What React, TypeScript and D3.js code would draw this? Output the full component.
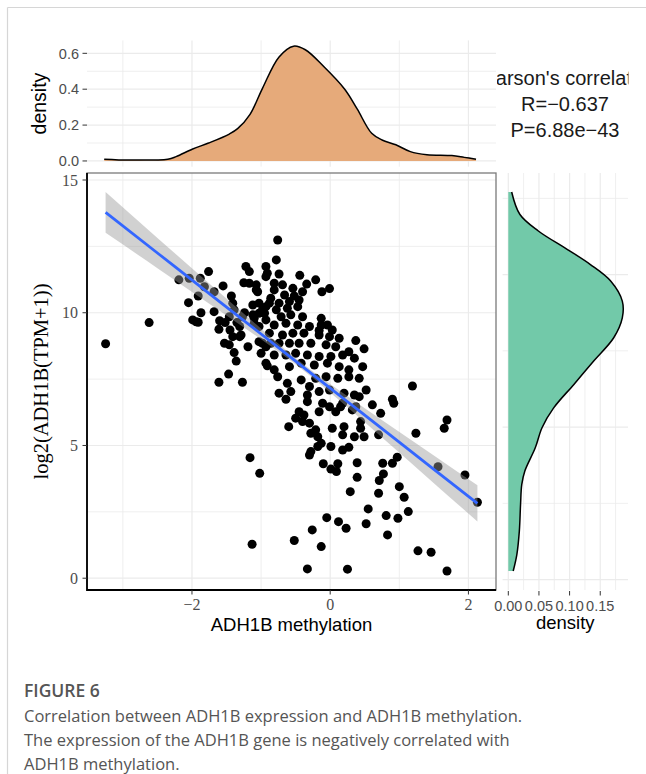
import React from 'react';
import * as d3 from 'd3';

// scatter: ADH1B methylation (x) vs log2(ADH1B(TPM+1)) (y)
const methylation = [
  -3.25, -2.62, -2.19, -2.04, -1.88, -1.76, -1.82, -1.91, -2.05, -1.99, -1.91, -1.87, -1.68, -1.68, -1.55, -1.60,
  -1.61, -1.52, -1.45, -1.43, -1.41, -1.39, -1.46, -1.53, -1.46, -1.39, -1.36, -1.47, -1.61, -1.27, -1.41, -1.31,
  -1.29, -1.19, -1.27, -1.22, -1.17, -1.17, -1.07, -1.07, -1.12, -1.03, -1.03, -1.10, -0.93, -0.93, -0.95, -0.93,
  -1.03, -0.93, -1.00, -0.93, -1.10, -1.16, -1.02, -1.13, -1.94, -1.35, -1.24, -1.25, -1.05, -0.78, -0.76, -0.88,
  -1.12, -0.86, -0.81, -1.31, -0.98, -0.86, -0.93, -1.03, -0.91, -0.81, -0.76, -0.74, -0.62, -0.57, -0.64, -0.42,
  -0.30, -0.33, -0.33, -0.45, -0.50, -0.38, -0.40, -0.30, -0.21, -0.28, -0.18, -0.16, -0.11, -0.01, 0.08, 0.15,
  -0.60, 0.03, 0.18, -0.13, -0.18, -0.28, 0.01, 0.18, -0.30, 0.27, -0.10, 0.01, 0.11, 0.09, 0.39, 0.39,
  0.29, 0.76, 0.90, 0.97, 0.77, 0.71, 0.70, 1.00, 1.07, 1.13, 0.98, 0.81, 0.55, 0.52, 0.83, -0.05,
  0.12, 0.23, -0.26, -0.52, -0.13, -0.33, 0.25, 1.27, 1.46, 1.69, 1.56, 1.95, 2.13, 1.19, 0.90, 0.92,
  0.61, 0.73, 1.69, 1.65, 1.24, 0.52, 0.42, 0.35, 0.20, 0.32, 0.44, 0.44, 0.20, 0.35, 0.49, 0.70,
  -0.91, -0.74, -0.44, -0.21, -0.34, -0.01, -0.12, -0.69, -0.81, -0.54, -0.40, -0.66, -0.52, -0.74, -0.59, -0.45,
  -0.98, -0.78, -0.62, -0.47, -0.71, -0.57, -0.40, -0.13, -0.13, -0.04, 0.03, -0.81, -0.64, -0.47, -0.30, -0.88,
  -0.69, -0.54, -0.38, -0.16, -0.01, 0.13, 0.37, 0.49, -0.74, -0.59, -0.45, -0.28, -0.06, 0.08, 0.27, -0.81,
  -0.64, -0.50, -0.33, -0.16, 0.01, 0.18, -0.59, -0.42, -0.23, -0.04, 0.13, 0.35, 0.27, 0.47, -0.21, -0.06,
  0.11, 0.27, 0.42, -0.16, -0.01, 0.18, 0.37, -0.16
];
const expression = [
  8.83, 9.63, 11.24, 11.30, 11.30, 11.55, 10.98, 10.63, 10.38, 9.73, 9.64, 10.00, 10.04, 10.79, 11.01, 9.70,
  9.38, 9.63, 9.35, 10.63, 10.36, 10.11, 9.85, 8.85, 8.79, 8.50, 8.18, 7.69, 7.38, 7.38, 9.10, 9.48,
  9.16, 8.72, 9.85, 11.74, 11.55, 11.11, 11.05, 10.86, 10.29, 10.36, 9.98, 9.79, 11.74, 11.36, 9.98, 10.23,
  8.91, 8.72, 8.47, 8.10, 9.60, 4.54, 3.95, 1.28, 9.66, 9.63, 10.00, 11.13, 10.79, 11.99, 12.74, 10.36,
  9.92, 10.55, 11.11, 9.10, 8.85, 8.85, 9.73, 9.48, 8.00, 7.85, 7.59, 6.97, 7.34, 7.03, 6.74, 7.47,
  7.22, 6.90, 6.65, 6.27, 6.03, 6.15, 5.90, 5.84, 5.59, 5.46, 5.33, 6.27, 6.59, 6.46, 6.27, 6.46,
  5.71, 5.65, 5.40, 5.08, 4.96, 4.77, 4.96, 4.83, 4.64, 4.93, 4.31, 4.11, 4.31, 4.02, 4.35, 3.80,
  3.26, 4.33, 4.33, 4.56, 3.93, 3.68, 3.20, 3.45, 3.05, 2.51, 2.26, 2.36, 2.61, 2.05, 1.63, 2.28,
  2.13, 1.88, 1.82, 1.42, 1.19, 0.35, 0.34, 1.03, 0.98, 0.27, 4.20, 3.89, 2.86, 7.24, 6.74, 6.59,
  6.53, 6.21, 5.96, 5.65, 5.46, 7.09, 6.84, 6.90, 6.97, 6.34, 5.90, 5.65, 5.71, 5.33, 5.33, 5.40,
  11.49, 11.46, 11.41, 11.24, 11.08, 10.91, 10.79, 11.05, 10.86, 10.92, 10.79, 10.67, 10.63, 10.36, 10.42, 10.48,
  10.11, 10.11, 10.17, 10.23, 9.85, 9.92, 9.85, 9.79, 9.54, 9.54, 9.35, 9.54, 9.60, 9.54, 9.48, 9.23,
  9.16, 9.23, 9.23, 9.16, 9.10, 9.04, 8.95, 8.64, 8.85, 8.85, 8.85, 8.85, 8.79, 8.72, 8.53, 8.41,
  8.41, 8.47, 8.41, 8.35, 8.35, 8.41, 7.97, 8.10, 8.03, 8.10, 7.97, 8.29, 7.85, 7.97, 7.53, 7.59,
  7.53, 7.59, 7.53, 7.03, 7.09, 6.59, 6.46, 9.33
];

// linear fit with 95% band
const fitX = [-3.25, -2.5, -1.75, -1.0, -0.4, 0.2, 0.8, 1.5, 2.13];
const fitY = [13.78, 12.25, 10.72, 9.20, 7.97, 6.75, 5.53, 4.10, 2.82];
const fitLow = [13.01, 11.68, 10.34, 9.00, 7.85, 6.55, 5.19, 3.58, 2.14];
const fitHigh = [14.55, 12.82, 11.10, 9.40, 8.09, 6.95, 5.87, 4.62, 3.50];

// marginal density of methylation (top)
const topDensX = [-3.27, -2.9, -2.35, -2.23, -1.99, -1.76, -1.46, -1.34, -1.16, -0.98, -0.74, -0.53, -0.36, -0.09, 0.21, 0.39, 0.6, 0.75, 0.95, 1.16, 1.4, 1.76, 1.94, 2.11];
const topDensY = [0.01, 0.005, 0.01, 0.024, 0.067, 0.10, 0.15, 0.18, 0.26, 0.405, 0.58, 0.64, 0.62, 0.525, 0.40, 0.29, 0.154, 0.117, 0.09, 0.052, 0.035, 0.03, 0.02, 0.01];

// marginal density of expression (right)
const rightDensY = [12.71, 11.97, 11.43, 10.83, 10.33, 9.79, 9.13, 8.58, 7.93, 7.16, 6.4, 5.63, 4.98, 4.32, 3.56, 3.12, 2.47, 1.59, 0.83, 0.28];
const rightDensX = [0.0055, 0.019, 0.049, 0.096, 0.134, 0.167, 0.186, 0.186, 0.172, 0.139, 0.107, 0.074, 0.055, 0.044, 0.027, 0.022, 0.020, 0.018, 0.014, 0.008];

const mainXTicks = [-2, 0, 2];
const mainXMinor = [-3, -1, 1];
const mainYTicks = [0, 5, 10, 15];
const mainYMinor = [2.5, 7.5, 12.5];
const topYTicks = [0, 0.2, 0.4, 0.6];
const topYMinor = [0.1, 0.3, 0.5];
const rightXTicks = [0, 0.05, 0.1, 0.15];
const rightXMinor = [0.025, 0.075, 0.125, 0.175];
const rightYTicks = [0, 5, 10];
const rightYMinor = [2.5, 7.5, 12.5];

const statLines = ["Pearson's correlation", 'R=\u22120.637', 'P=6.88e\u221243'];
const captionTitle = 'FIGURE 6';
const captionLines = [
  'Correlation between ADH1B expression and ADH1B methylation.',
  'The expression of the ADH1B gene is negatively correlated with',
  'ADH1B methylation.'
];

const SANS = '"Liberation Sans", Arial, sans-serif';
const SERIF = '"Liberation Serif", "Times New Roman", serif';
const GRID = '#EBEBEB';

const expand = (lo: number, hi: number): [number, number] => {
  const d = (hi - lo) * 0.05;
  return [lo - d, hi + d];
};
const fmtMinus = (v: number) => (v < 0 ? '\u2212' + Math.abs(v) : String(v));

export default function App() {
  // panel boxes
  const mL = 87, mR = 496, mT = 173, mB = 590;
  const tT = 40.4, tB = 166.7;
  const rL = 502.6, rR = 628;

  const x = d3.scaleLinear()
    .domain(expand(d3.min(methylation)!, d3.max(methylation)!))
    .range([mL, mR]);
  const y = d3.scaleLinear()
    .domain(expand(Math.min(d3.min(expression)!, d3.min(fitLow)!), Math.max(d3.max(expression)!, d3.max(fitHigh)!)))
    .range([mB, mT]);
  const ty = d3.scaleLinear().domain(expand(0, d3.max(topDensY)!)).range([tB, tT]);
  const rx = d3.scaleLinear().domain(expand(0, d3.max(rightDensX)!)).range([rL, rR]);
  const ry = d3.scaleLinear().domain(expand(d3.min(rightDensY)!, d3.max(rightDensY)!)).range([mB, mT]);

  const topPts = topDensX.map((v, i) => [v, topDensY[i]] as [number, number]);
  const topArea = d3.area<[number, number]>()
    .x(d => x(d[0])).y0(ty(0)).y1(d => ty(d[1])).curve(d3.curveCatmullRom)(topPts)!;
  const topLine = d3.line<[number, number]>()
    .x(d => x(d[0])).y(d => ty(d[1])).curve(d3.curveCatmullRom)(topPts)!;

  const rightPts = rightDensY.map((v, i) => [v, rightDensX[i]] as [number, number]);
  const rightArea = d3.area<[number, number]>()
    .y(d => ry(d[0])).x0(rx(0)).x1(d => rx(d[1])).curve(d3.curveCatmullRom)(rightPts)!;
  const rightLine = d3.line<[number, number]>()
    .y(d => ry(d[0])).x(d => rx(d[1])).curve(d3.curveCatmullRom)(rightPts)!;

  const band = d3.area<number>()
    .x((d, i) => x(fitX[i])).y0((d, i) => y(fitLow[i])).y1((d, i) => y(fitHigh[i]))
    .curve(d3.curveMonotoneX)(fitX)!;
  const fitPath = d3.line<number>()
    .x((d, i) => x(fitX[i])).y(d => y(d))
    .curve(d3.curveMonotoneX)(fitY)!;

  return (
    <div style={{ position: 'absolute', left: 0, top: 0 }}>
      <svg width={646} height={774} style={{ display: 'block', background: '#fff' }}>
        <defs>
          <clipPath id="statClip">
            <rect x={497} y={55} width={131.5} height={100} />
          </clipPath>
        </defs>

        {/* card frame */}
        <line x1={7.5} y1={7.5} x2={646} y2={7.5} stroke="#D6D6D6" strokeWidth={1.2} />
        <line x1={7.5} y1={7.5} x2={7.5} y2={774} stroke="#D6D6D6" strokeWidth={1.2} />

        {/* top density panel */}
        <g>
          {topYMinor.map(v => (
            <line key={'tym' + v} x1={mL} x2={mR} y1={ty(v)} y2={ty(v)} stroke={GRID} strokeWidth={0.8} />
          ))}
          {mainXMinor.map(v => (
            <line key={'txm' + v} x1={x(v)} x2={x(v)} y1={tT} y2={tB} stroke={GRID} strokeWidth={0.8} />
          ))}
          {topYTicks.map(v => (
            <line key={'ty' + v} x1={mL} x2={mR} y1={ty(v)} y2={ty(v)} stroke={GRID} strokeWidth={1.2} />
          ))}
          {mainXTicks.map(v => (
            <line key={'tx' + v} x1={x(v)} x2={x(v)} y1={tT} y2={tB} stroke={GRID} strokeWidth={1.2} />
          ))}
          <path d={topArea} fill="#E6AA7A" />
          <path d={topLine} fill="none" stroke="#000" strokeWidth={1.5} />
          {topYTicks.map(v => (
            <g key={'tyl' + v}>
              <line x1={mL - 4.5} x2={mL} y1={ty(v)} y2={ty(v)} stroke="#333" strokeWidth={1} />
              <text x={mL - 8} y={ty(v)} dy="0.36em" textAnchor="end" fontFamily={SANS} fontSize={14.5} fill="#4D4D4D">
                {v.toFixed(1)}
              </text>
            </g>
          ))}
          <text transform={`translate(46,${(tT + tB) / 2}) rotate(-90)`} textAnchor="middle"
            fontFamily={SANS} fontSize={19.5} fill="#000">density</text>
        </g>

        {/* correlation text, clipped like the original */}
        <g clipPath="url(#statClip)">
          {statLines.map((s, i) => (
            <text key={s} x={565} y={84.5 + i * 26} textAnchor="middle" fontFamily={SANS} fontSize={20} fill="#1A1A1A">
              {s}
            </text>
          ))}
        </g>

        {/* main scatter panel */}
        <g>
          {mainYMinor.map(v => (
            <line key={'mym' + v} x1={mL} x2={mR} y1={y(v)} y2={y(v)} stroke={GRID} strokeWidth={0.8} />
          ))}
          {mainXMinor.map(v => (
            <line key={'mxm' + v} x1={x(v)} x2={x(v)} y1={mT} y2={mB} stroke={GRID} strokeWidth={0.8} />
          ))}
          {mainYTicks.map(v => (
            <line key={'my' + v} x1={mL} x2={mR} y1={y(v)} y2={y(v)} stroke={GRID} strokeWidth={1.2} />
          ))}
          {mainXTicks.map(v => (
            <line key={'mx' + v} x1={x(v)} x2={x(v)} y1={mT} y2={mB} stroke={GRID} strokeWidth={1.2} />
          ))}
          {methylation.map((v, i) => (
            <circle key={'p' + i} cx={x(v)} cy={y(expression[i])} r={4.5} fill="#000" />
          ))}
          <path d={band} fill="#999999" fillOpacity={0.45} />
          <path d={fitPath} fill="none" stroke="#3366FF" strokeWidth={2.8} />
          <rect x={mL} y={mT} width={mR - mL} height={mB - mT} fill="none" stroke="#7A7A7A" strokeWidth={1.3} />
          <line x1={mL} x2={mL} y1={mT} y2={mB + 0.9} stroke="#000" strokeWidth={1.8} />
          <line x1={mL} x2={mR} y1={mB} y2={mB} stroke="#000" strokeWidth={1.8} />
          {mainYTicks.map(v => (
            <g key={'myl' + v}>
              <line x1={mL - 4.5} x2={mL} y1={y(v)} y2={y(v)} stroke="#333" strokeWidth={1} />
              <text x={mL - 9} y={y(v)} dy="0.35em" textAnchor="end" fontFamily={SERIF} fontSize={16} fill="#4D4D4D">
                {v}
              </text>
            </g>
          ))}
          {mainXTicks.map(v => (
            <g key={'mxl' + v}>
              <line x1={x(v)} x2={x(v)} y1={mB} y2={mB + 4.5} stroke="#333" strokeWidth={1} />
              <text x={x(v)} y={609.5} textAnchor="middle" fontFamily={SERIF} fontSize={16} fill="#4D4D4D">
                {fmtMinus(v)}
              </text>
            </g>
          ))}
          <text transform={`translate(48,${(mT + mB) / 2}) rotate(-90)`} textAnchor="middle"
            fontFamily={SERIF} fontSize={20.5} fill="#000">log2(ADH1B(TPM+1))</text>
          <text x={(mL + mR) / 2} y={630.5} textAnchor="middle" fontFamily={SANS} fontSize={18.5} fill="#000">
            ADH1B methylation
          </text>
        </g>

        {/* right density panel */}
        <g>
          {rightYMinor.map(v => (
            <line key={'rym' + v} x1={rL} x2={rR} y1={ry(v)} y2={ry(v)} stroke={GRID} strokeWidth={0.8} />
          ))}
          {rightXMinor.map(v => (
            <line key={'rxm' + v} x1={rx(v)} x2={rx(v)} y1={mT} y2={mB} stroke={GRID} strokeWidth={0.8} />
          ))}
          {rightYTicks.map(v => (
            <line key={'ry' + v} x1={rL} x2={rR} y1={ry(v)} y2={ry(v)} stroke={GRID} strokeWidth={1.2} />
          ))}
          {rightXTicks.map(v => (
            <line key={'rx' + v} x1={rx(v)} x2={rx(v)} y1={mT} y2={mB} stroke={GRID} strokeWidth={1.2} />
          ))}
          <path d={rightArea} fill="#72C9A9" />
          <path d={rightLine} fill="none" stroke="#000" strokeWidth={1.5} />
          {rightXTicks.map(v => (
            <g key={'rxl' + v}>
              <line x1={rx(v)} x2={rx(v)} y1={mB + 1} y2={mB + 5.5} stroke="#333" strokeWidth={1} />
              <text x={rx(v)} y={610.5} textAnchor="middle" fontFamily={SANS} fontSize={14.5} fill="#4D4D4D">
                {v.toFixed(2)}
              </text>
            </g>
          ))}
          <text x={(rL + rR) / 2} y={629} textAnchor="middle" fontFamily={SANS} fontSize={18.5} fill="#000">density</text>
        </g>

        {/* caption */}
        <text x={24} y={697} fontFamily='"Open Sans", sans-serif' fontWeight={600} fontSize={17.5} fill="#555">
          {captionTitle}
        </text>
        {captionLines.map((s, i) => (
          <text key={i} x={24} y={722 + i * 24} fontFamily='"Open Sans", sans-serif' fontSize={16.5} fill="#555">
            {s}
          </text>
        ))}
      </svg>
    </div>
  );
}
